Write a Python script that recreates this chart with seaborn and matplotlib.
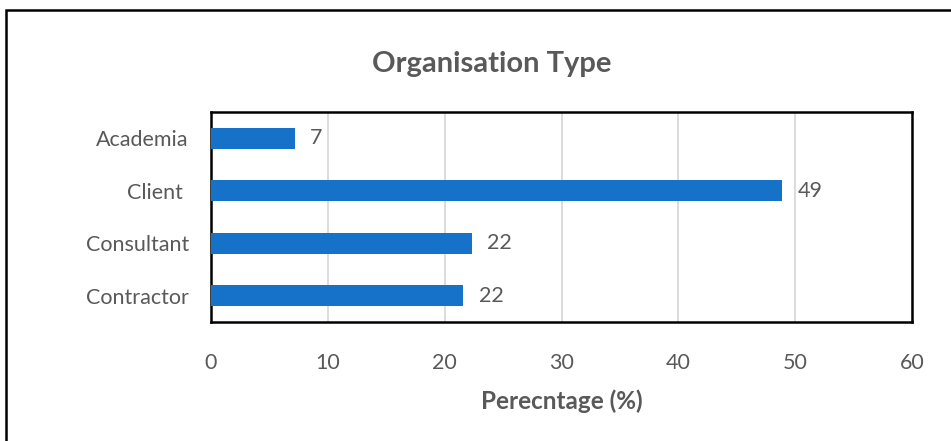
import matplotlib
matplotlib.use("Agg")
import matplotlib.pyplot as plt
import seaborn as sns
import pandas as pd
from matplotlib.patches import Rectangle

categories = ["Academia", "Client ", "Consultant", "Contractor"]
values = [7.2, 48.9, 22.3, 21.6]
value_labels = ["7", "49", "22", "22"]
x_ticks = [0, 10, 20, 30, 40, 50, 60]

sns.set_style("white")
plt.rcParams["font.family"] = ["Lato", "DejaVu Sans"]

df = pd.DataFrame({"org": categories, "pct": values})
grey = "#595959"

fig = plt.figure(figsize=(9.51, 4.41), dpi=100)
ax = fig.add_axes([211 / 951, 1 - 322 / 441, (912 - 211) / 951, (322 - 112) / 441])

sns.barplot(data=df, x="pct", y="org", orient="h", color="#1672C9",
            width=0.4, saturation=1, linewidth=0, ax=ax, zorder=3)

for bar, lab in zip(ax.patches, value_labels):
    ax.text(bar.get_width() + 1.3, bar.get_y() + bar.get_height() / 2, lab,
            va="center", ha="left", fontsize=15.5, color=grey)

ax.set_xlim(0, 60)
ax.set_ylim(3.5, -0.5)
ax.set_xticks(x_ticks)
ax.set_xticklabels([str(t) for t in x_ticks])
ax.grid(axis="x", color="#d9d9d9", lw=1.3, zorder=0)
ax.tick_params(axis="both", length=0, labelsize=15.5, labelcolor=grey)
ax.tick_params(axis="x", pad=22)
ax.tick_params(axis="y", pad=16)
ax.set_ylabel("")
ax.set_xlabel("Perecntage (%)", fontsize=17.5, fontweight="bold", color=grey, labelpad=12)
for s in ax.spines.values():
    s.set_visible(True)
    s.set_color("black")
    s.set_linewidth(1.8)

fig.text(492 / 951, 1 - 64 / 441, "Organisation Type", ha="center", va="center",
         fontsize=21, fontweight="bold", color=grey)

fig.patches.append(Rectangle((6 / 951, -0.1), 1.2, 1 - 10 / 441 + 0.1,
                             transform=fig.transFigure, fill=False,
                             edgecolor="black", lw=1.8))

fig.savefig("out.png", dpi=100)
